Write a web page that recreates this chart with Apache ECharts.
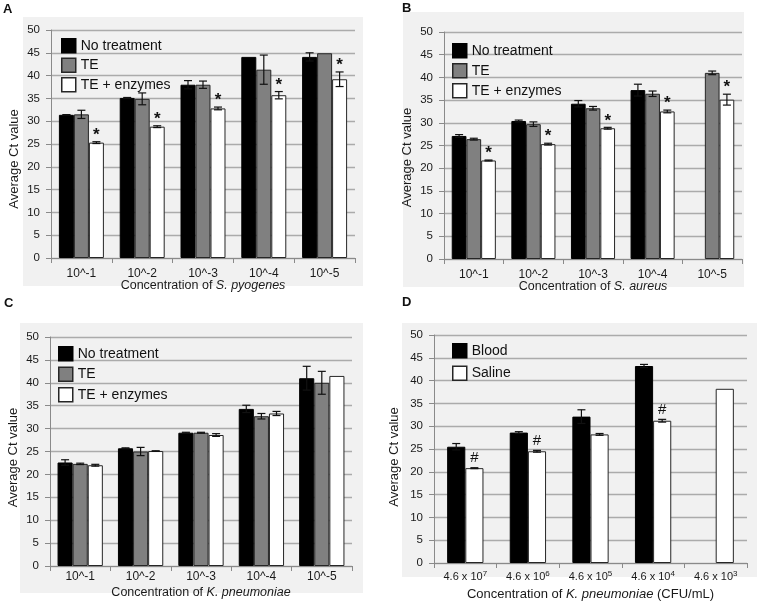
<!DOCTYPE html>
<html><head><meta charset="utf-8">
<script src="https://cdn.jsdelivr.net/npm/echarts@6/dist/echarts.min.js"></script>
<style>html,body{margin:0;padding:0;background:#fff}#c{width:760px;height:605px}</style>
</head><body><div id="c"></div>
<script>
// ---------- DATA ----------
const catsA = ['10^-1', '10^-2', '10^-3', '10^-4', '10^-5'];
const catsB = ['10^-1', '10^-2', '10^-3', '10^-4', '10^-5'];
const catsC = ['10^-1', '10^-2', '10^-3', '10^-4', '10^-5'];
const catsD = ['4.6 x 10^7', '4.6 x 10^6', '4.6 x 10^5', '4.6 x 10^4', '4.6 x 10^3'];
const yTicks = [0, 5, 10, 15, 20, 25, 30, 35, 40, 45, 50];

const namesABC = ['No treatment', 'TE', 'TE + enzymes'];
const namesD = ['Blood', 'Saline'];

// Panel A: S. pyogenes
const aNo = [31.4, 35.1, 38.0, 44.1, 44.1];
const aNoErr = [0.05, 0.1, 0.9, null, 0.9];
const aTE = [31.5, 34.9, 38.0, 41.3, 44.9];
const aTEErr = [0.9, 1.3, 0.8, 3.2, null];
const aEnz = [25.3, 28.8, 32.8, 35.7, 39.2];
const aEnzErr = [0.2, 0.2, 0.3, 0.8, 1.6];
const aMarks = ['*', '*', '*', '*', '*'];

// Panel B: S. aureus
const bNo = [27.1, 30.4, 34.2, 37.2, null];
const bNoErr = [0.3, 0.2, 0.7, 1.3, null];
const bTE = [26.4, 29.7, 33.2, 36.4, 41.0];
const bTEErr = [0.2, 0.5, 0.4, 0.6, 0.4];
const bEnz = [21.7, 25.3, 28.8, 32.5, 35.1];
const bEnzErr = [0.1, 0.2, 0.2, 0.3, 1.2];
const bMarks = ['*', '*', '*', '*', '*'];

// Panel C: K. pneumoniae
const cNo = [22.6, 25.7, 29.1, 34.3, 41.0];
const cNoErr = [0.6, 0.1, 0.1, 0.8, 2.6];
const cTE = [22.3, 25.0, 29.1, 32.7, 40.0];
const cTEErr = [0.15, 0.9, 0.1, 0.6, 2.5];
const cEnz = [22.0, 25.1, 28.6, 33.3, 41.5];
const cEnzErr = [0.2, 0.05, 0.3, 0.45, null];

// Panel D: K. pneumoniae (CFU/mL)
const dBlood = [25.5, 28.6, 32.1, 43.2, null];
const dBloodErr = [0.7, 0.2, 1.5, 0.35, null];
const dSaline = [20.8, 24.5, 28.2, 31.2, 38.2];
const dSalineErr = [0.1, 0.2, 0.2, 0.3, null];
const dMarks = ['#', '#', '', '#', ''];

// ---------- STYLE / LAYOUT ----------
const FONT = "'Liberation Sans', Arial, Helvetica, sans-serif";
const TXT = '#1a1a1a';
const AX = '#8a8a8a';
const GRIDC = '#ababab';
const BLACK = {color: '#000', borderColor: '#000', borderWidth: 1};
const GREY = {color: '#808080', borderColor: '#262626', borderWidth: 1};
const WHITE = {color: '#fff', borderColor: '#262626', borderWidth: 1};

const panels = [
  {letter: 'A', lx: 3, ly: 3, bg: [23, 17, 340, 269],
   grid: {left: 51, top: 30, width: 304, height: 228},
   cats: catsA, gap: 0.26, xName: 'Concentration of {i|S. pyogenes}', xFs: 12.5, xNameGap: 21, xLabMargin: 10, xLabFs: 12,
   yNameGap: 30, yShift: 15, leg: {left: 61, top: 38, gap: 4}, names: namesABC,
   series: [[aNo, aNoErr, BLACK, null], [aTE, aTEErr, GREY, null], [aEnz, aEnzErr, WHITE, aMarks]]},
  {letter: 'B', lx: 402, ly: 2, bg: [403, 12, 341, 275],
   grid: {left: 444, top: 32, width: 298, height: 227},
   cats: catsB, gap: 0.26, xName: 'Concentration of {i|S. aureus}', xFs: 12.5, xNameGap: 21, xLabMargin: 10, xLabFs: 12,
   yNameGap: 30, yShift: 12, leg: {left: 452, top: 43, gap: 4.5}, names: namesABC,
   series: [[bNo, bNoErr, BLACK, null], [bTE, bTEErr, GREY, null], [bEnz, bEnzErr, WHITE, bMarks]]},
  {letter: 'C', lx: 4, ly: 297, bg: [20, 323, 343, 270],
   grid: {left: 50, top: 337, width: 302, height: 229},
   cats: catsC, gap: 0.25, xName: 'Concentration of {i|K. pneumoniae}', xFs: 12.5, xNameGap: 20, xLabMargin: 5, xLabFs: 12,
   yNameGap: 30, yShift: 6, leg: {left: 58, top: 346, gap: 5}, names: namesABC,
   series: [[cNo, cNoErr, BLACK, null], [cTE, cTEErr, GREY, null], [cEnz, cEnzErr, WHITE, null]]},
  {letter: 'D', lx: 402, ly: 296, bg: [402, 323, 355, 254],
   grid: {left: 434, top: 335, width: 313, height: 228},
   cats: catsD, gap: 0.42, xName: 'Concentration of {i|K. pneumoniae} (CFU/mL)', xFs: 13, xNameGap: 25, xLabMargin: 7, xLabFs: 11, sup: true,
   yNameGap: 33, yShift: 8, leg: {left: 452, top: 343, gap: 7}, names: namesD,
   series: [[dBlood, dBloodErr, BLACK, null], [dSaline, dSalineErr, WHITE, dMarks]]}
];

function errSeries(gi, vals, errs, marks, k, n, gap, markFont, markOff) {
  return {
    type: 'custom', xAxisIndex: gi, yAxisIndex: gi, z: 5, silent: true, animation: false,
    data: vals.map((v, i) => [i, v == null ? 0 : v]),
    renderItem: function (params, api) {
      const i = params.dataIndex;
      const v = vals[i];
      if (v == null) return null;
      const e = errs[i];
      const m = marks ? marks[i] : '';
      const band = api.size([1, 0])[0];
      const total = band * (1 - gap);
      const w = total / n;
      const c = api.coord([i, v]);
      const x = c[0] - total / 2 + (k + 0.5) * w;
      const children = [];
      let topY = c[1];
      if (e) {
        const t = api.coord([i, v + e])[1];
        const b = api.coord([i, v - e])[1];
        const cap = 4;
        const st = {stroke: '#111', lineWidth: 1.2};
        children.push({type: 'line', shape: {x1: x, y1: t, x2: x, y2: b}, style: st});
        children.push({type: 'line', shape: {x1: x - cap, y1: t, x2: x + cap, y2: t}, style: st});
        children.push({type: 'line', shape: {x1: x - cap, y1: b, x2: x + cap, y2: b}, style: st});
        topY = t;
      }
      if (m) {
        children.push({type: 'text', x: x, y: topY - markOff,
          style: {text: m, font: markFont, fill: '#111', align: 'center', verticalAlign: 'bottom'}});
      }
      return {type: 'group', children: children};
    }
  };
}

const option = {
  animation: false,
  backgroundColor: '#fff',
  textStyle: {fontFamily: FONT},
  graphic: [],
  grid: [], xAxis: [], yAxis: [], legend: [], series: []
};

panels.forEach((p, gi) => {
  option.graphic.push({type: 'rect', z: -10, silent: true,
    shape: {x: p.bg[0], y: p.bg[1], width: p.bg[2], height: p.bg[3]},
    style: {fill: '#f1f1f1'}});
  option.graphic.push({type: 'text', z: 10, left: p.lx, top: p.ly, silent: true,
    style: {text: p.letter, font: 'bold 13px ' + FONT, fill: '#111'}});
  option.grid.push(Object.assign({containLabel: false, outerBoundsMode: 'none'}, p.grid));
  option.xAxis.push({
    gridIndex: gi, type: 'category', data: p.cats,
    axisLine: {show: true, lineStyle: {color: AX, width: 1}},
    axisTick: {show: true, length: 5, interval: 0, lineStyle: {color: AX}},
    axisLabel: {interval: 0, fontSize: p.xLabFs, color: TXT, margin: p.xLabMargin, fontFamily: FONT,
      formatter: p.sup ? (v => { const s = v.split('^'); return s[0] + '{sup|' + s[1] + '}'; }) : (v => v),
      rich: {sup: {fontSize: 8, color: TXT, fontFamily: FONT, verticalAlign: 'top', padding: [0, 0, 5, 0]}}},
    splitLine: {show: false},
    name: p.xName, nameLocation: 'middle', nameGap: p.xNameGap, nameMoveOverlap: false,
    nameTextStyle: {fontSize: p.xFs, color: TXT, fontFamily: FONT,
      rich: {i: {fontStyle: 'italic', fontSize: p.xFs, color: TXT, fontFamily: FONT}}}
  });
  option.yAxis.push({
    gridIndex: gi, type: 'value', min: yTicks[0], max: yTicks[yTicks.length - 1], interval: yTicks[1] - yTicks[0],
    axisLine: {show: true, lineStyle: {color: AX, width: 1}},
    axisTick: {show: true, length: 5, lineStyle: {color: AX}},
    axisLabel: {fontSize: 11.5, color: TXT, margin: 11, fontFamily: FONT},
    splitLine: {show: true, lineStyle: {color: GRIDC, width: 1.4}},
    name: 'Average Ct value', nameLocation: 'middle', nameGap: p.yNameGap, nameMoveOverlap: false,
    nameTextStyle: {fontSize: 13, color: TXT, fontFamily: FONT, padding: [0, 2 * p.yShift, 0, 0]}
  });
  option.legend.push({
    data: p.names, orient: 'vertical', left: p.leg.left, top: p.leg.top, padding: 0,
    itemWidth: 14, itemHeight: 14, itemGap: p.leg.gap, icon: 'rect', selectedMode: false,
    itemStyle: {borderWidth: 1.5},
    textStyle: {fontSize: 14, color: '#111', fontFamily: FONT}
  });
  const n = p.series.length;
  p.series.forEach((s, k) => {
    option.series.push({
      name: p.names[k], type: 'bar', xAxisIndex: gi, yAxisIndex: gi, data: s[0],
      barGap: '0%', barCategoryGap: (p.gap * 100) + '%', itemStyle: s[2], silent: true, animation: false
    });
  });
  p.series.forEach((s, k) => {
    const mf = p.letter === 'D' ? '15px ' + FONT : 'bold 17px ' + FONT;
    const off = p.letter === 'D' ? 2 : -2;
    option.series.push(errSeries(gi, s[0], s[1], s[3], k, n, p.gap, mf, off));
  });
});

const chart = echarts.init(document.getElementById('c'), null, {renderer: 'canvas'});
chart.setOption(option);
</script>
</body></html>
